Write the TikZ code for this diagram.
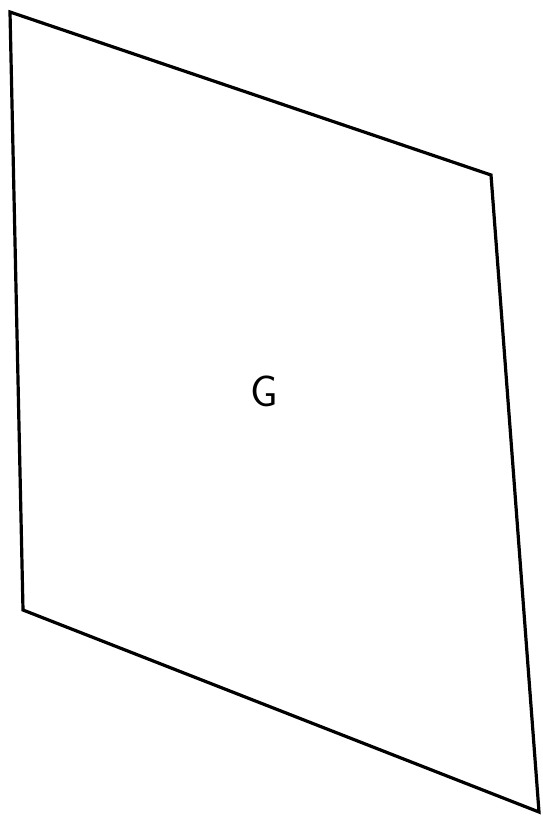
\documentclass[tikz,border=0pt]{standalone}
\usepackage{tikz}
\usetikzlibrary{positioning, calc}

\begin{document}
\begin{tikzpicture}[x=1pt, y=-1pt,
            plane/.style={draw, line width=3.2pt, line join=miter},
            lbl/.style={font=\fontsize{44}{44}\selectfont\sffamily}]

            \useasboundingbox (0,0) rectangle (542,819);

            % ===== corners of the plane =====
            \coordinate (tl) at (10,12);
            \coordinate (tr) at (491,175);
            \coordinate (br) at (539,812);
            \coordinate (bl) at (23,610);

            \draw[plane] (tl) -- (tr) -- (br) -- (bl) -- cycle;

            \node[lbl] (G) at (264,391) {G};
        \end{tikzpicture}
\end{document}
